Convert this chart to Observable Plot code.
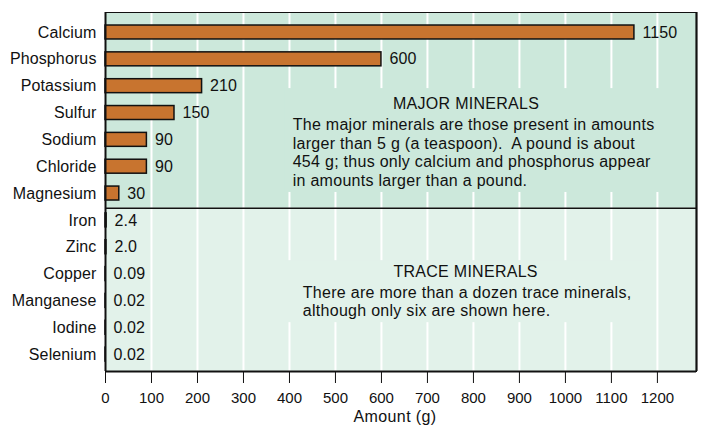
<!DOCTYPE html>
<html>
<head>
<meta charset="utf-8">
<script src="https://cdn.jsdelivr.net/npm/d3@7"></script>
<script src="https://cdn.jsdelivr.net/npm/@observablehq/plot@0.6"></script>
<style>
  html, body { margin: 0; padding: 0; background: #fff; }
</style>
</head>
<body>
<div id="chart"></div>
<script>
// ---- data ----
const minerals = ["Calcium", "Phosphorus", "Potassium", "Sulfur", "Sodium", "Chloride", "Magnesium",
                  "Iron", "Zinc", "Copper", "Manganese", "Iodine", "Selenium"];
const amounts = [1150, 600, 210, 150, 90, 90, 30, 2.4, 2.0, 0.09, 0.02, 0.02, 0.02];
const amountLabels = ["1150", "600", "210", "150", "90", "90", "30", "2.4", "2.0", "0.09", "0.02", "0.02", "0.02"];
const groups = ["major", "major", "major", "major", "major", "major", "major",
                "trace", "trace", "trace", "trace", "trace", "trace"];
const xTicks = [0, 100, 200, 300, 400, 500, 600, 700, 800, 900, 1000, 1100, 1200];
const gridValues = [100, 200, 300, 400, 500, 600, 700, 800, 900, 1000, 1100, 1200];
const xTitle = "Amount (g)";
const majorTitle = "MAJOR MINERALS";
const majorBody = [
  "The major minerals are those present in amounts",
  "larger than 5 g (a teaspoon).\u00A0 A pound is about",
  "454 g; thus only calcium and phosphorus appear",
  "in amounts larger than a pound."
];
const traceTitle = "TRACE MINERALS";
const traceBody = [
  "There are more than a dozen trace minerals,",
  "although only six are shown here."
];

// ---- layout / style ----
const W = 707, H = 429;
const xMax = 1285;
const yTop = -0.745, ySplit = 6.55, yBottom = 12.63;
const majorBg = "#cce8db", traceBg = "#e2f2ea", barFill = "#c8742f", ink = "#111";
const font = "'Liberation Sans', Arial, Helvetica, sans-serif";

const rows = minerals.map((name, i) => ({name, i, amount: amounts[i], label: amountLabels[i], group: groups[i]}));
const half = 0.26;

const plot = Plot.plot({
  width: W,
  height: H,
  marginLeft: 105,
  marginRight: 11,
  marginTop: 12,
  marginBottom: 58,
  style: {fontFamily: font, fontSize: "16px", color: ink, background: "#fff", letterSpacing: "0.12px"},
  x: {domain: [0, xMax]},
  y: {domain: [yTop, yBottom], reverse: true},
  marks: [
    // region backgrounds
    Plot.rect([0], {x1: 0, x2: xMax, y1: yTop, y2: ySplit, fill: majorBg}),
    Plot.rect([0], {x1: 0, x2: xMax, y1: ySplit, y2: yBottom, fill: traceBg}),
    // white grid
    Plot.ruleX(gridValues, {stroke: "#fff", strokeWidth: 2, y1: yTop, y2: yBottom}),
    // masks behind annotation text
    Plot.rect([0], {x1: 391, x2: 1206, y1: 2.09, y2: 5.96, fill: majorBg}),
    Plot.rect([0], {x1: 391, x2: 1174, y1: 8.5, y2: 10.81, fill: traceBg}),
    // bars
    Plot.rect(rows, {x1: 0, x2: "amount", y1: d => d.i - half, y2: d => d.i + half,
                     fill: barFill, stroke: ink, strokeWidth: 1.5}),
    // value labels
    Plot.text(rows, {x: "amount", y: "i", text: "label", textAnchor: "start", dx: 8, fontSize: 16, fill: ink}),
    // divider & borders
    Plot.ruleY([ySplit], {stroke: ink, strokeWidth: 1.5}),
    Plot.frame({stroke: ink, strokeWidth: 1}),
    Plot.ruleX([0], {stroke: ink, strokeWidth: 2}),
    Plot.ruleX([xMax], {stroke: ink, strokeWidth: 2.2}),
    Plot.ruleY([yBottom], {stroke: ink, strokeWidth: 2.2}),
    // annotations
    Plot.text([majorTitle], {x: 784, y: 2.66, text: d => d, textAnchor: "middle", fontSize: 16, fill: ink}),
    Plot.text([majorBody.join("\n")], {x: 407, y: 4.45, text: d => d, textAnchor: "start", lineAnchor: "middle",
                                       lineHeight: 1.17, fontSize: 16, fill: ink}),
    Plot.text([traceTitle], {x: 783, y: 8.93, text: d => d, textAnchor: "middle", fontSize: 16, fill: ink}),
    Plot.text([traceBody.join("\n")], {x: 429, y: 10.0, text: d => d, textAnchor: "start", lineAnchor: "middle",
                                       lineHeight: 1.17, fontSize: 16, fill: ink}),
    // axes
    Plot.axisX({ticks: xTicks, tickFormat: d => String(d), tickSize: 12, tickPadding: 9, label: null,
                fontSize: 15, stroke: ink}),
    Plot.axisY({ticks: rows.map(d => d.i), tickFormat: i => minerals[i], tickSize: 0, tickPadding: 9,
                label: null, fontSize: 16}),
    Plot.text([xTitle], {frameAnchor: "bottom", dy: 50, dx: -6, text: d => d, fontSize: 16, fill: ink})
  ]
});
// tracking adjustments to match the reference typesetting
const textGroups = plot.querySelectorAll('g[aria-label="text"]');
[1, 2, 3, 4].forEach(k => { if (textGroups[k]) textGroups[k].style.letterSpacing = "0.28px"; });
if (textGroups[5]) textGroups[5].style.letterSpacing = "0.4px";
const xAxisGroup = plot.querySelector('g[aria-label="x-axis tick label"]');
if (xAxisGroup) xAxisGroup.style.letterSpacing = "0px";
document.getElementById("chart").appendChild(plot);
</script>
</body>
</html>
